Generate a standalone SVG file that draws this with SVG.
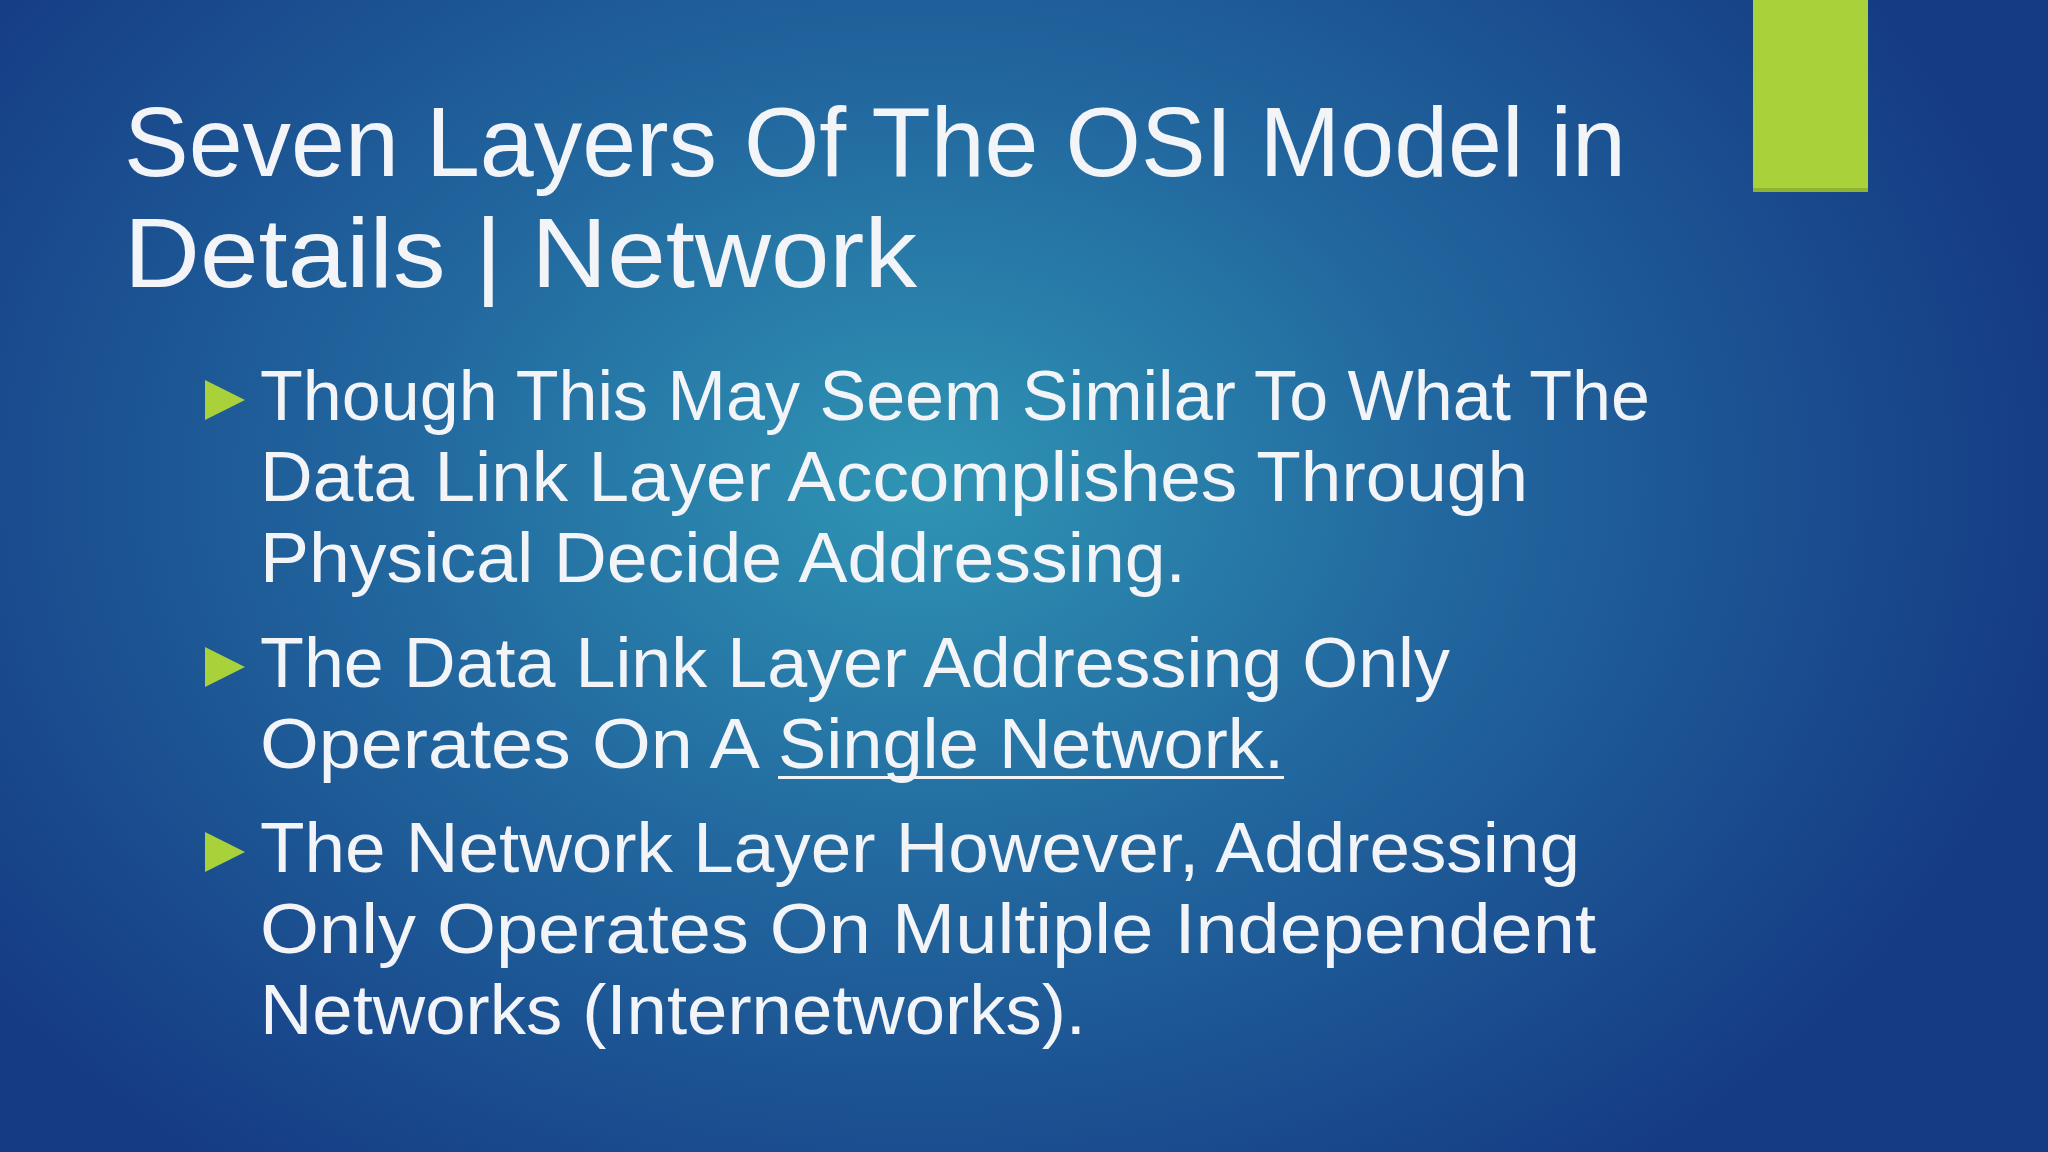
<svg xmlns="http://www.w3.org/2000/svg" width="2048" height="1152" viewBox="0 0 2048 1152">
<defs>
<radialGradient id="bg" cx="0.45" cy="0.42" r="0.75" gradientTransform="translate(0.45 0.42) scale(0.75 1) translate(-0.45 -0.42)">
<stop offset="0" stop-color="#2f95b4"/>
<stop offset="0.45" stop-color="#22689f"/>
<stop offset="1" stop-color="#153b84"/>
</radialGradient>
<style>
.t{font-family:"Liberation Sans","DejaVu Sans",sans-serif;fill:#f2f4f7}
.h{font-size:98px}
.b{font-size:70px}
.bul{fill:#a8d13a}
</style>
</defs>
<rect width="2048" height="1152" fill="url(#bg)"/>
<rect x="1753" y="0" width="115" height="192" fill="#a8d13a"/>
<rect x="1753" y="188" width="115" height="4" fill="#7f9e2c" opacity="0.6"/>
<g id="title">
<text class="t h" x="124" y="176" textLength="1502" lengthAdjust="spacingAndGlyphs">Seven Layers Of The OSI Model in</text>
<text class="t h" x="124" y="287" textLength="793" lengthAdjust="spacingAndGlyphs">Details | Network</text>
</g>
<g id="bullet1">
<polygon class="bul" points="205,380 245,400 205,420"/>
<text class="t b" x="260" y="420" textLength="1390" lengthAdjust="spacingAndGlyphs">Though This May Seem Similar To What The</text>
<text class="t b" x="260" y="501" textLength="1268" lengthAdjust="spacingAndGlyphs">Data Link Layer Accomplishes Through</text>
<text class="t b" x="260" y="582" textLength="926" lengthAdjust="spacingAndGlyphs">Physical Decide Addressing.</text>
</g>
<g id="bullet2">
<polygon class="bul" points="205,647 245,667 205,687"/>
<text class="t b" x="260" y="687" textLength="1190" lengthAdjust="spacingAndGlyphs">The Data Link Layer Addressing Only</text>
<text class="t b" x="260" y="768" textLength="500" lengthAdjust="spacingAndGlyphs">Operates On A</text>
<text class="t b" x="778" y="768" textLength="506" lengthAdjust="spacingAndGlyphs">Single Network.</text>
<rect x="778" y="776" width="506" height="3" fill="#f2f4f7"/>
</g>
<g id="bullet3">
<polygon class="bul" points="205,832 245,852 205,872"/>
<text class="t b" x="260" y="872" textLength="1320" lengthAdjust="spacingAndGlyphs">The Network Layer However, Addressing</text>
<text class="t b" x="260" y="953" textLength="1336" lengthAdjust="spacingAndGlyphs">Only Operates On Multiple Independent</text>
<text class="t b" x="260" y="1034" textLength="826" lengthAdjust="spacingAndGlyphs">Networks (Internetworks).</text>
</g>
</svg>
